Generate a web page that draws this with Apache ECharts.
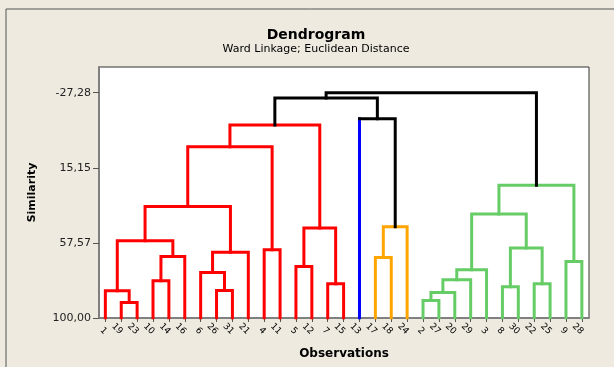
<!DOCTYPE html>
<html>
<head>
<meta charset="utf-8">
<script src="https://cdn.jsdelivr.net/npm/echarts@6/dist/echarts.min.js"></script>
<style>
html,body{margin:0;padding:0;background:#EEEAE0;}
#chart{width:614px;height:367px;}
</style>
</head>
<body>
<div id="chart"></div>
<script>
// Leaf labels in dendrogram order (left to right)
const leafOrder = [1,19,23,10,14,16,6,26,31,21,4,11,5,12,7,15,13,17,18,24,2,27,20,29,3,8,30,22,25,9,28];
// Merges: [left, right, similarity]; numbers = observations, "C#" = earlier merge
const merges = [
  [19, 23, 91.2],      // C0
  [2, 27, 90.1],       // C1
  [1, 'C0', 84.6],     // C2
  [26, 31, 84.4],      // C3
  ['C1', 20, 85.6],    // C4
  [8, 30, 82.3],       // C5
  [7, 15, 80.6],       // C6
  [22, 25, 80.6],      // C7
  [10, 14, 79.0],      // C8
  ['C4', 29, 78.4],    // C9
  [6, 'C3', 74.3],     // C10
  ['C9', 3, 72.7],     // C11
  [5, 12, 70.9],       // C12
  [9, 28, 68.1],       // C13
  [17, 18, 65.8],      // C14
  ['C8', 16, 65.2],    // C15
  ['C10', 21, 62.8],   // C16
  [4, 11, 61.5],       // C17
  ['C5', 'C7', 60.5],  // C18
  ['C2', 'C15', 56.4], // C19
  ['C12', 'C6', 49.2], // C20
  ['C14', 24, 48.5],   // C21
  ['C11', 'C18', 41.3],// C22
  ['C19', 'C16', 37.0],// C23
  ['C22', 'C13', 25.0],// C24
  ['C23', 'C17', 3.2], // C25
  ['C25', 'C20', -9.1],// C26
  [13, 'C21', -12.6],  // C27
  ['C26', 'C27', -24.3],// C28
  ['C28', 'C24', -27.28] // C29
];
const numClusters = 4;
const yTickValues = [100, 57.57, 15.15, -27.28];
const leafSimilarity = 100;

const clusterColors = ['#FF0000', '#0000FF', '#FFA500', '#66CC66'];
const linkColor = '#000000';

// Build node info
const nodes = {};
leafOrder.forEach((lab, i) => { nodes['L' + lab] = { x: i + 1, h: leafSimilarity, leaf: true, leaves: [lab] }; });
const key = r => (typeof r === 'number') ? 'L' + r : r;
merges.forEach((m, i) => {
  const a = nodes[key(m[0])], b = nodes[key(m[1])];
  nodes['C' + i] = { x: (a.x + b.x) / 2, h: m[2], leaf: false, a: key(m[0]), b: key(m[1]), leaves: a.leaves.concat(b.leaves) };
});
// top (numClusters-1) merges are black
const sortedIdx = merges.map((m, i) => i).sort((p, q) => merges[p][2] - merges[q][2]);
const blackSet = new Set(sortedIdx.slice(0, numClusters - 1).map(i => 'C' + i));
// cluster roots: children of black nodes that are not black
const roots = [];
blackSet.forEach(k => { [nodes[k].a, nodes[k].b].forEach(c => { if (!blackSet.has(c)) roots.push(c); }); });
roots.sort((p, q) => nodes[p].x - nodes[q].x);
const leafColor = {};
const nodeColor = {};
roots.forEach((r, ci) => {
  const col = clusterColors[ci % clusterColors.length];
  nodes[r].leaves.forEach(l => leafColor[l] = col);
  const stack = [r];
  while (stack.length) {
    const k = stack.pop();
    nodeColor[k] = col;
    if (!nodes[k].leaf) { stack.push(nodes[k].a, nodes[k].b); }
  }
});
blackSet.forEach(k => nodeColor[k] = linkColor);

const lineData = [];
merges.forEach((m, i) => {
  const k = 'C' + i, n = nodes[k];
  const A = nodes[n.a], B = nodes[n.b];
  const pc = nodeColor[k];
  const ca = A.leaf ? leafColor[A.leaves[0]] : pc;
  const cb = B.leaf ? leafColor[B.leaves[0]] : pc;
  const segs = [
    [[A.x, A.h], [A.x, n.h], ca],
    [[A.x, n.h], [B.x, n.h], pc],
    [[B.x, n.h], [B.x, B.h], cb]
  ];
  let cur = null;
  segs.forEach(s => {
    if (cur && cur.color === s[2]) { cur.coords.push(s[1]); }
    else {
      if (cur) lineData.push({ coords: cur.coords, lineStyle: { color: cur.color } });
      cur = { coords: [s[0], s[1]], color: s[2] };
    }
  });
  lineData.push({ coords: cur.coords, lineStyle: { color: cur.color } });
});

const chart = echarts.init(document.getElementById('chart'), null, { renderer: 'canvas' });
const font = 'DejaVu Sans';
chart.setOption({
  backgroundColor: '#EEEAE0',
  animation: false,
  title: {
    text: 'Dendrogram',
    subtext: 'Ward Linkage; Euclidean Distance',
    left: 311, top: 23, textAlign: 'center', itemGap: 2,
    textStyle: { fontFamily: font, fontSize: 14, fontWeight: 'bold', color: '#000' },
    subtextStyle: { fontFamily: font, fontSize: 11, color: '#000' }
  },
  graphic: [{
    type: 'rect', shape: { x: 6, y: 9, width: 700, height: 500 },
    style: { fill: 'none', stroke: '#555', lineWidth: 1 }, silent: true
  }],
  grid: {
    left: 99, top: 67, right: 25, bottom: 49,
    show: true, backgroundColor: '#FFFFFF', borderColor: '#333', borderWidth: 1
  },
  xAxis: {
    type: 'value', min: 0.6, max: 31.45,
    name: 'Observations', nameLocation: 'middle', nameGap: 30,
    nameTextStyle: { fontFamily: font, fontSize: 12, fontWeight: 'bold', color: '#000' },
    axisLine: { onZero: false, lineStyle: { color: '#808080', width: 2 } },
    axisTick: { customValues: leafOrder.map((l, i) => i + 1), length: 4, lineStyle: { color: '#555' } },
    axisLabel: {
      customValues: leafOrder.map((l, i) => i + 1),
      formatter: v => String(leafOrder[Math.round(v) - 1]),
      rotate: -45, align: 'right', verticalAlign: 'middle', margin: 15,
      fontFamily: font, fontSize: 9, color: '#000'
    },
    splitLine: { show: false }
  },
  yAxis: {
    type: 'value', inverse: true, min: -41.8, max: 100,
    name: 'Similarity', nameLocation: 'middle', nameGap: 61,
    nameTextStyle: { fontFamily: font, fontSize: 11, fontWeight: 'bold', color: '#000' },
    axisLine: { show: true, onZero: false, lineStyle: { color: '#808080', width: 2 } },
    axisTick: { show: true, customValues: yTickValues, length: 6, lineStyle: { color: '#555' } },
    axisLabel: {
      customValues: yTickValues,
      formatter: v => v.toFixed(2).replace('.', ','),
      margin: 8, fontFamily: font, fontSize: 11, color: '#222'
    },
    splitLine: { show: false }
  },
  series: [{
    type: 'lines', coordinateSystem: 'cartesian2d', polyline: true,
    lineStyle: { width: 3, opacity: 1, cap: 'square', join: 'miter' },
    data: lineData, silent: true, z: 5
  }]
});
</script>
</body>
</html>
